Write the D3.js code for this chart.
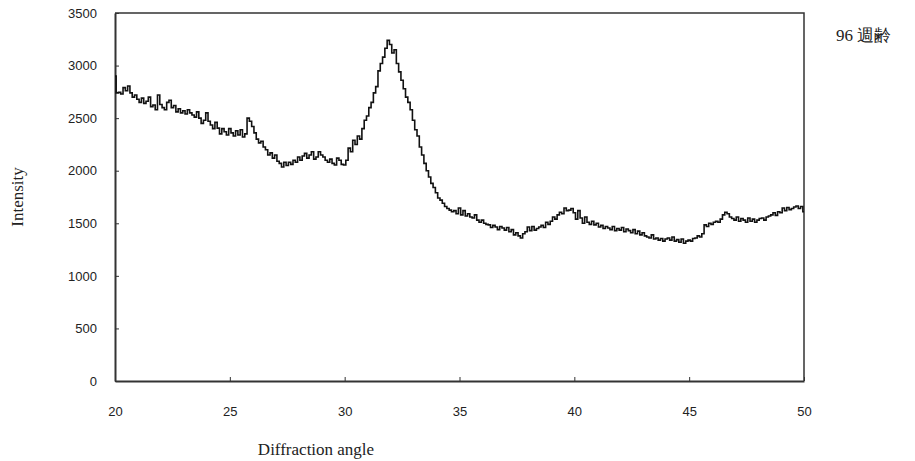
<!DOCTYPE html>
<html>
<head>
<meta charset="utf-8">
<script src="https://cdn.jsdelivr.net/npm/d3@7"></script>
<style>
  body { margin: 0; background: #fff; }
  svg { display: block; }
  .tick text { font-family: "Liberation Sans", Arial, sans-serif; font-size: 13px; fill: #222; }
  .title { font-family: "Liberation Serif", "Times New Roman", serif; fill: #222; }
</style>
</head>
<body>
<svg width="915" height="461"></svg>
<script>
// diffraction angle starts at 20, one value every 0.1 degree
var angleStart = 20,
    angleStep = 0.1;

// intensity, one row per degree (20.0 .. 49.9) then the last point at 50
var intensity = [
  2900, 2740, 2745, 2730, 2790, 2760, 2805, 2740, 2700, 2720,
  2680, 2650, 2690, 2640, 2660, 2700, 2610, 2625, 2580, 2720,
  2630, 2600, 2580, 2650, 2670, 2600, 2620, 2560, 2590, 2550,
  2570, 2540, 2580, 2550, 2530, 2510, 2560, 2500, 2450, 2480,
  2550, 2470, 2435, 2400, 2460, 2405, 2350, 2400, 2370, 2340,
  2400, 2360, 2330, 2380, 2340, 2390, 2320, 2350, 2500, 2470,
  2420, 2360, 2300, 2265, 2280, 2225, 2200, 2150, 2170, 2120,
  2150, 2090, 2070, 2035, 2080, 2050, 2080, 2060, 2100, 2080,
  2130, 2100, 2140, 2165, 2120, 2150, 2180, 2110, 2130, 2180,
  2150, 2130, 2100, 2080, 2110, 2070, 2055, 2120, 2100, 2060,
  2055, 2100, 2215, 2180, 2290, 2250, 2330, 2300, 2400, 2480,
  2520, 2600, 2650, 2740, 2800, 2950, 3020, 3080, 3165, 3240,
  3200, 3120, 3150, 3020, 2940, 2860, 2780, 2700, 2650, 2580,
  2480, 2390, 2330, 2225, 2150, 2070, 2000, 1940, 1880, 1840,
  1790, 1740, 1720, 1690, 1660, 1640, 1625, 1610, 1620, 1590,
  1645, 1580, 1620, 1570, 1590, 1560, 1550, 1580, 1530, 1510,
  1530, 1500, 1490, 1485, 1460, 1480, 1465, 1440, 1470, 1455,
  1435, 1460, 1420, 1440, 1390, 1410, 1380, 1360, 1400, 1420,
  1465, 1430, 1470, 1435, 1450, 1465, 1480, 1460, 1510, 1490,
  1520, 1560, 1540, 1580, 1605, 1590, 1645, 1620, 1625, 1640,
  1600, 1540, 1620, 1550, 1500, 1560, 1510, 1490, 1520, 1485,
  1500, 1465, 1480, 1450, 1470, 1455, 1440, 1470, 1430, 1450,
  1435, 1460, 1420, 1445, 1430, 1410, 1440, 1400, 1425, 1390,
  1410, 1380, 1370, 1360, 1390, 1350, 1360, 1340, 1355, 1330,
  1350, 1360, 1340, 1370, 1330, 1345, 1320, 1350, 1310, 1330,
  1340, 1330, 1355, 1360, 1380, 1370, 1400, 1485, 1470, 1500,
  1490, 1510, 1520, 1510, 1540, 1580, 1605, 1590, 1560, 1545,
  1530, 1560, 1520, 1545, 1530, 1510, 1550, 1520, 1540, 1510,
  1530, 1545, 1550, 1530, 1560, 1570, 1580, 1600, 1575, 1610,
  1600, 1645, 1620, 1650, 1630, 1640, 1655, 1665, 1640, 1660,
  1610
];

var xTicks = [20, 25, 30, 35, 40, 45, 50],
    yTicks = [0, 500, 1000, 1500, 2000, 2500, 3000, 3500];

var svg = d3.select("svg"),
    plotLeft = 115, plotTop = 13, plotRight = 804, plotBottom = 381;

var x = d3.scaleLinear().domain([20, 50]).range([plotLeft, plotRight]),
    y = d3.scaleLinear().domain([0, 3500]).range([plotBottom, plotTop]);

var data = intensity.map(function(v, i) {
  return {a: angleStart + i * angleStep, v: v};
});

// box: top and right
svg.append("path")
    .attr("d", "M" + plotLeft + "," + plotTop + "H" + plotRight + "V" + plotBottom)
    .attr("fill", "none")
    .attr("stroke", "#333")
    .attr("stroke-width", 1.5);

var xAxis = svg.append("g")
    .attr("transform", "translate(0," + plotBottom + ")")
    .call(d3.axisBottom(x).tickValues(xTicks).tickFormat(d3.format("d"))
        .tickSizeInner(-4).tickSizeOuter(0).tickPadding(26));
xAxis.select(".domain").attr("stroke", "#333").attr("stroke-width", 2);
xAxis.selectAll(".tick line").attr("stroke", "#333");

var yAxis = svg.append("g")
    .attr("transform", "translate(" + plotLeft + ",0)")
    .call(d3.axisLeft(y).tickValues(yTicks).tickFormat(d3.format("d"))
        .tickSizeInner(-4).tickSizeOuter(0).tickPadding(18));
yAxis.select(".domain").attr("stroke", "#333").attr("stroke-width", 2);
yAxis.selectAll(".tick line").attr("stroke", "#333");

svg.append("path")
    .datum(data)
    .attr("fill", "none")
    .attr("stroke", "#111")
    .attr("stroke-width", 1.6)
    .attr("d", d3.line()
        .curve(d3.curveStep)
        .x(function(d) { return x(d.a); })
        .y(function(d) { return y(d.v); }));

svg.append("text")
    .attr("class", "title")
    .attr("transform", "translate(23,197) rotate(-90)")
    .attr("text-anchor", "middle")
    .style("font-size", "17px")
    .text("Intensity");

svg.append("text")
    .attr("class", "title")
    .attr("x", 316)
    .attr("y", 455)
    .attr("text-anchor", "middle")
    .style("font-size", "17px")
    .text("Diffraction angle");

svg.append("text")
    .attr("class", "title")
    .attr("x", 836)
    .attr("y", 41)
    .style("font-size", "17px")
    .text("96 週齢");
</script>
</body>
</html>
